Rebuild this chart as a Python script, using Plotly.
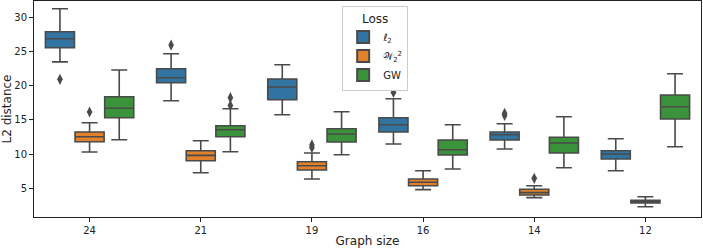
import plotly.graph_objects as go

categories = ["24", "21", "19", "16", "14", "12"]
series_names = ["ℓ<sub>2</sub>", "𝒲<sub>2</sub><sup>2</sup>", "GW"]
colors = ["#3274a1", "#e1812c", "#3a923a"]

l2_q1 = [25.56, 20.44, 17.95, 13.23, 12.06, 9.28]
l2_med = [26.87, 21.17, 19.81, 14.30, 12.84, 10.01]
l2_q3 = [27.90, 22.49, 20.98, 15.32, 13.23, 10.50]
l2_lo = [23.50, 17.81, 15.76, 11.48, 10.75, 7.57]
l2_hi = [31.26, 24.68, 23.07, 18.10, 14.44, 12.25]

w2_q1 = [11.81, 9.04, 7.67, 5.38, 4.02, 2.85]
w2_med = [12.54, 9.82, 8.30, 5.88, 4.36, 3.04]
w2_q3 = [13.23, 10.50, 8.89, 6.36, 4.85, 3.25]
w2_lo = [10.31, 7.28, 6.36, 4.80, 3.63, 2.31]
w2_hi = [14.59, 11.96, 10.16, 7.57, 5.38, 3.77]

gw_q1 = [15.32, 12.54, 11.77, 9.87, 10.16, 15.13]
gw_med = [16.70, 13.57, 12.94, 10.64, 11.62, 16.93]
gw_q3 = [18.39, 14.15, 13.71, 12.06, 12.46, 18.64]
gw_lo = [12.11, 10.35, 9.91, 7.82, 8.01, 11.08]
gw_hi = [22.30, 16.64, 16.20, 14.30, 15.47, 21.75]

# outliers: (category index, value)
l2_out = [(0, 20.94), (1, 25.95), (3, 19.03), (4, 15.95), (4, 15.65)]
w2_out = [(0, 16.16), (2, 11.35), (2, 10.95), (4, 6.46)]
gw_out = [(1, 18.25), (1, 17.13)]

stats = [
    (l2_q1, l2_med, l2_q3, l2_lo, l2_hi, l2_out),
    (w2_q1, w2_med, w2_q3, w2_lo, w2_hi, w2_out),
    (gw_q1, gw_med, gw_q3, gw_lo, gw_hi, gw_out),
]

hue_width = 0.8 / 3
edge = "#4a4a4a"

fig = go.Figure()
for k, (q1, med, q3, lo, hi, outs) in enumerate(stats):
    off = (k - 1) * hue_width
    xs = [i + off for i in range(len(categories))]
    fig.add_trace(go.Box(
        x=xs, q1=q1, median=med, q3=q3, lowerfence=lo, upperfence=hi,
        width=hue_width * 0.98, whiskerwidth=0.55,
        fillcolor=colors[k], line=dict(color=edge, width=1.6),
        name=series_names[k], boxpoints=False, showlegend=True,
    ))
    fig.add_trace(go.Scatter(
        x=[o[0] + off for o in outs], y=[o[1] for o in outs],
        mode="markers", showlegend=False,
        marker=dict(symbol="diamond-tall", size=8, color=edge,
                    line=dict(width=0)),
    ))

fig.update_layout(
    width=703, height=248,
    margin=dict(l=34, r=2, t=1, b=31, autoexpand=False),
    paper_bgcolor="white", plot_bgcolor="white",
    font=dict(family="DejaVu Sans", size=10, color="#222"),
    legend=dict(
        title=dict(text="Loss", side="top center"),
        x=0.462, y=0.977, xanchor="left", yanchor="top",
        bordercolor="#cccccc", borderwidth=1, bgcolor="white",
        font=dict(size=10), itemsizing="constant", tracegroupgap=4,
    ),
)
fig.update_xaxes(
    range=[-0.5, len(categories) - 0.5],
    tickvals=list(range(len(categories))), ticktext=categories,
    showline=True, linecolor="#222", linewidth=1, mirror=True,
    ticks="outside", ticklen=4, tickcolor="#222", showgrid=False, zeroline=False,
    title=dict(text="Graph size", standoff=2), automargin=False,
)
fig.update_yaxes(
    range=[0.8, 32.4], tickvals=[5, 10, 15, 20, 25, 30],
    showline=True, linecolor="#222", linewidth=1, mirror=True,
    ticks="outside", ticklen=4, tickcolor="#222", showgrid=False, zeroline=False,
    title=dict(text="L2 distance", standoff=2), automargin=False,
)

fig.write_html(
    "out.html",
    config={"displayModeBar": False},
    post_script="document.body.style.margin='0';document.body.style.overflow='hidden';",
)
